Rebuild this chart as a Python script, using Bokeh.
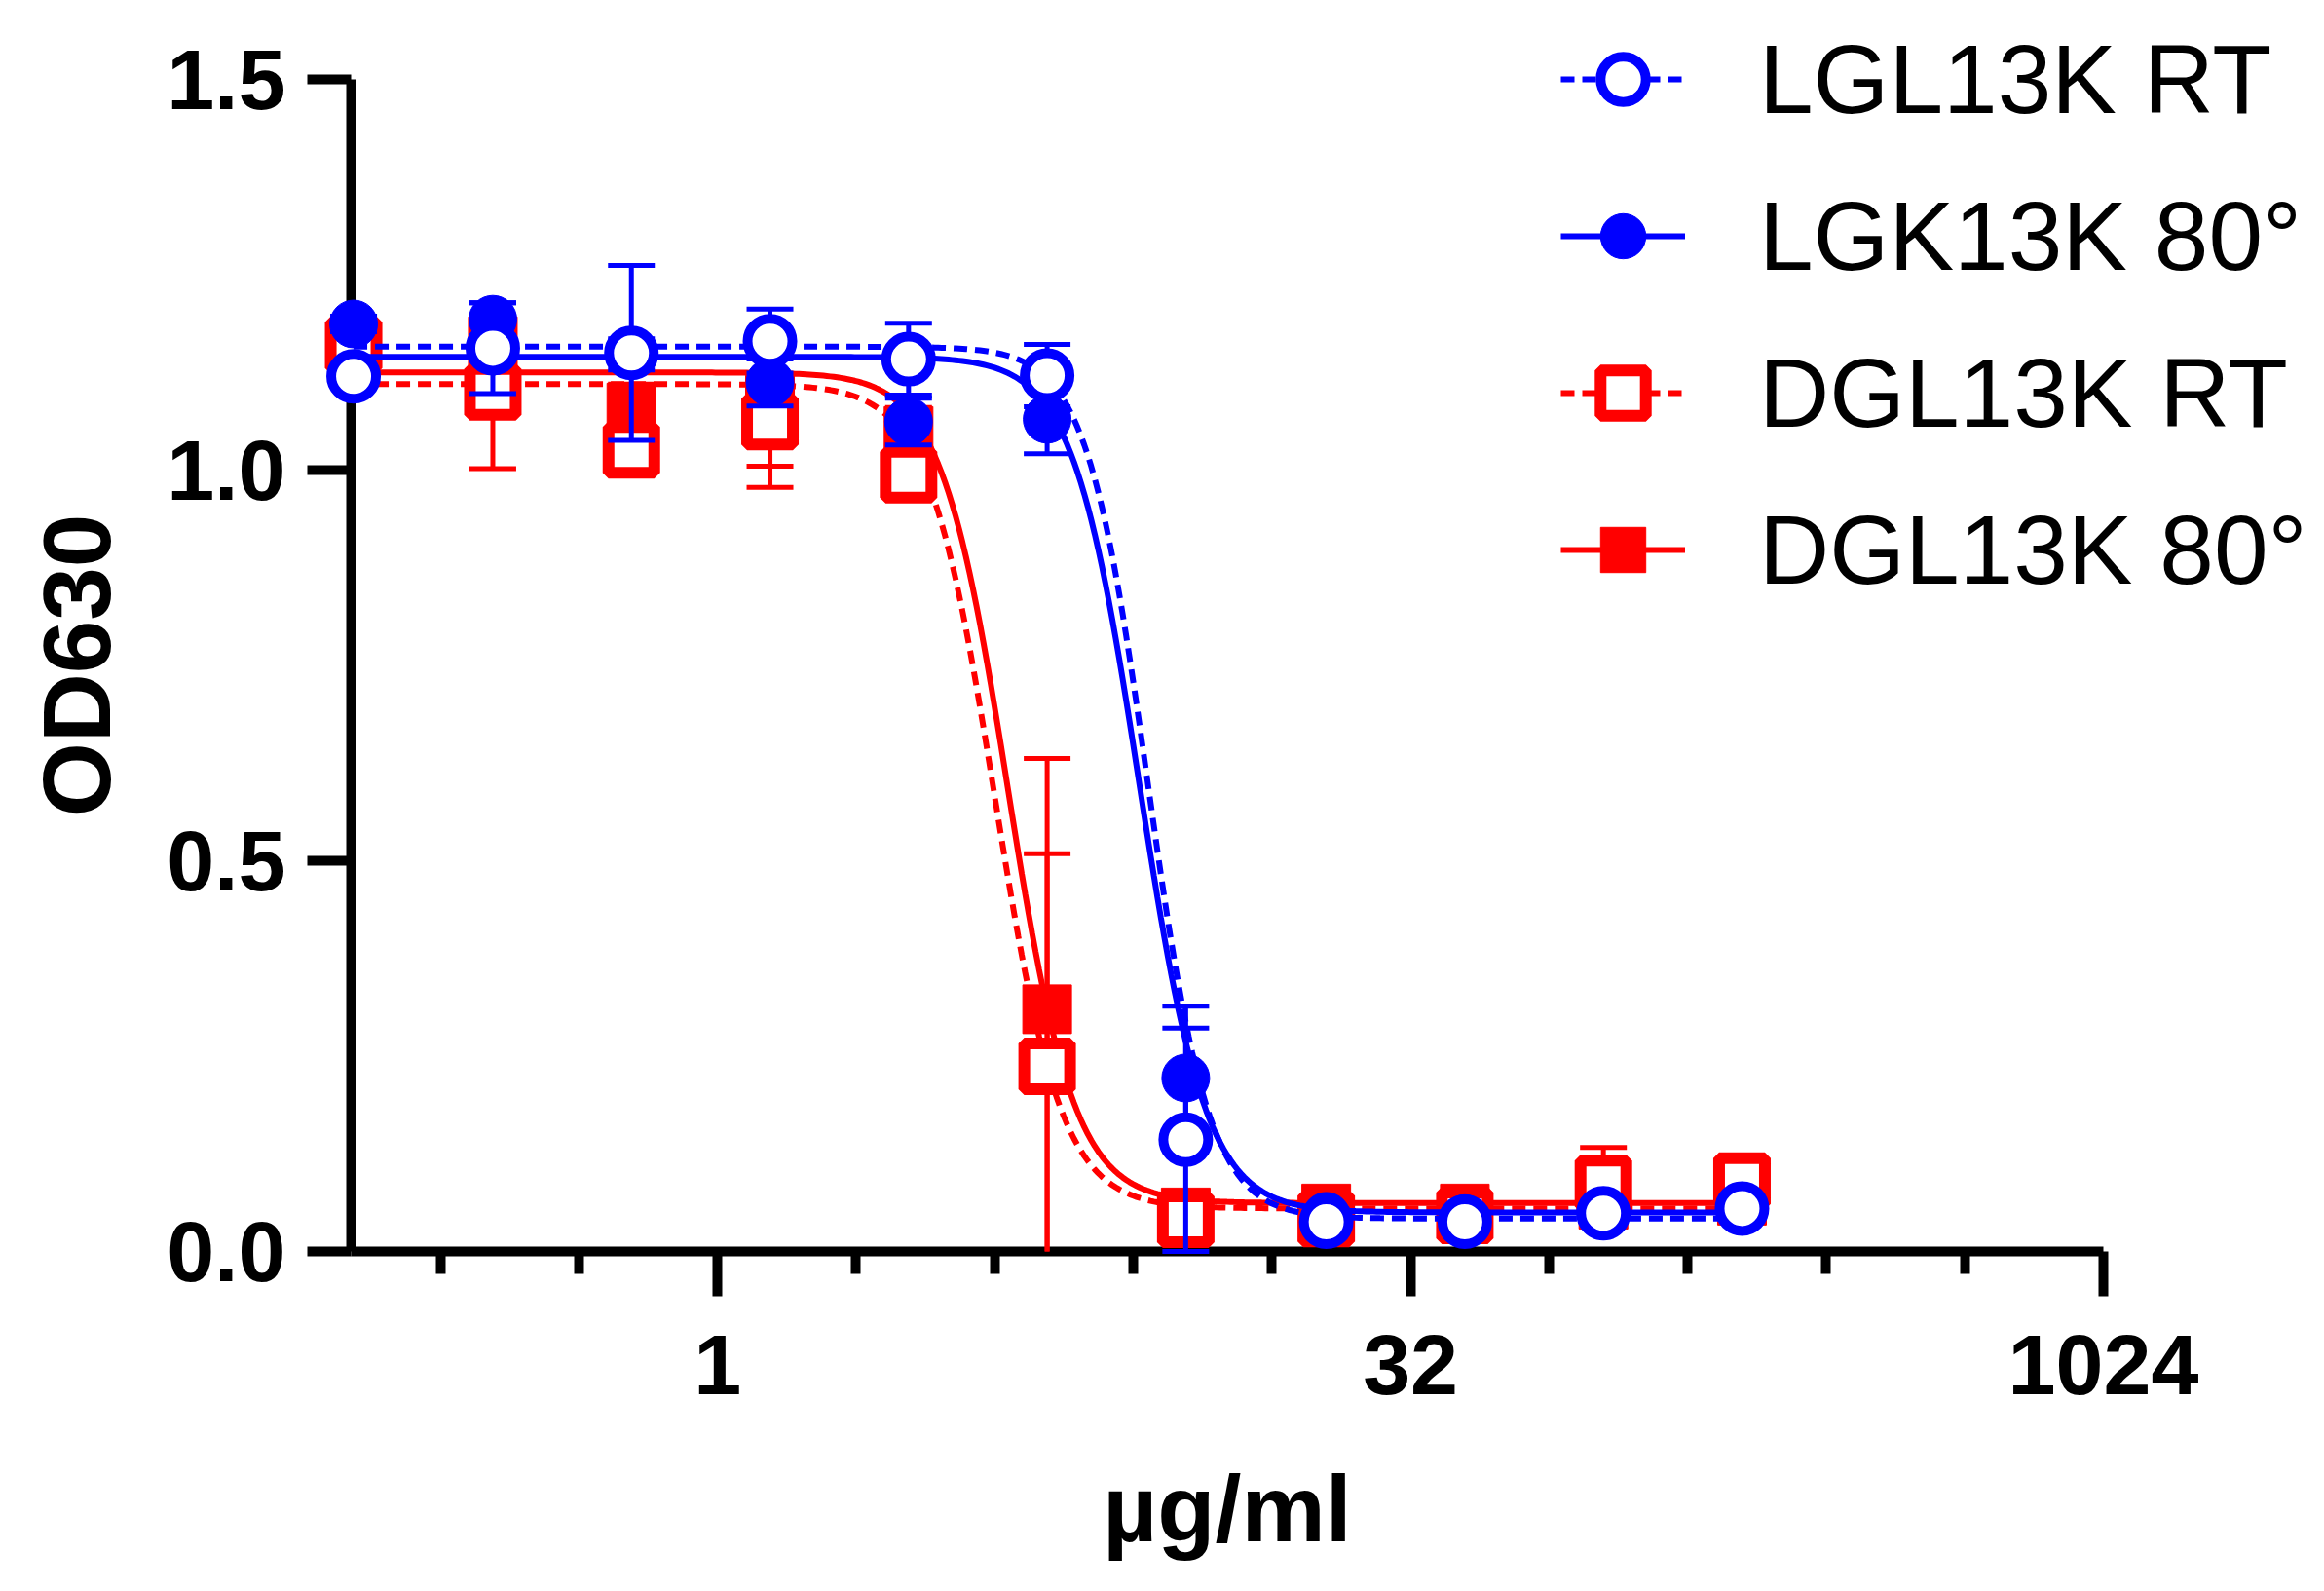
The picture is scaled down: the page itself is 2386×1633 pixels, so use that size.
import math
import numpy as np
from bokeh.plotting import figure
from bokeh.models import ColumnDataSource, FixedTicker, PrintfTickFormatter, Legend, LegendItem
from bokeh.core.properties import value
from bokeh.embed import file_html
from bokeh.resources import INLINE

# concentrations (ug/ml)
conc = [0.162, 0.325, 0.65, 1.3, 2.6, 5.2, 10.4, 21, 42, 84, 168]

# OD630 means and SDs
lgl_rt = [1.120, 1.156, 1.150, 1.165, 1.142, 1.121, 0.143, 0.038, 0.038, 0.049, 0.055]
lgl_rt_sd = [0.010, 0.058, 0.112, 0.041, 0.046, 0.040, 0.143, 0.005, 0.005, 0.005, 0.005]

lgk_80 = [1.187, 1.193, 1.148, 1.112, 1.062, 1.065, 0.222, 0.045, 0.042, 0.050, 0.056]
lgk_80_sd = [0.010, 0.021, 0.020, 0.030, 0.030, 0.044, 0.092, 0.005, 0.005, 0.005, 0.005]

dgl_rt = [1.160, 1.100, 1.026, 1.062, 0.994, 0.237, 0.041, 0.042, 0.046, 0.087, 0.090]
dgl_rt_sd = [0.010, 0.098, 0.030, 0.084, 0.030, 0.272, 0.020, 0.005, 0.005, 0.046, 0.010]

dgl_80 = [1.150, 1.165, 1.080, 1.090, 1.050, 0.310, 0.050, 0.055, 0.055, 0.060, 0.065]
dgl_80_sd = [0.010, 0.030, 0.030, 0.085, 0.030, 0.321, 0.010, 0.005, 0.005, 0.010, 0.010]

# fitted 4PL curves: top, bottom, EC50, hill slope
lgl_rt_fit = [1.158, 0.042, 8.6, 6.5]
lgk_80_fit = [1.145, 0.050, 8.25, 6.0]
dgl_rt_fit = [1.110, 0.055, 4.0, 6.0]
dgl_80_fit = [1.125, 0.062, 4.27, 6.0]

labels = ["LGL13K RT", "LGK13K 80°", "DGL13K RT", "DGL13K 80°"]
x_title = "µg/ml"
y_title = "OD630"

BLUE = "#0000ff"
RED = "#ff0000"
FONT = "Liberation Sans"

# axes span 0.16..1024 over 1799 px and 0..1.5 over 1203 px;
# the frame runs on to the right and top edges so the legend has room
X0, X1, Y1 = 0.16, 1024, 1.5
AX_W, AX_H = 1799, 1203
FRAME_W, FRAME_H = 2010, 1284
px_per_doubling = AX_W / math.log2(X1 / X0)
px_per_unit = AX_H / Y1
x_end = X1 * 2 ** ((FRAME_W - AX_W) / px_per_doubling)
y_end = Y1 * FRAME_H / AX_H

p = figure(frame_width=FRAME_W, frame_height=FRAME_H, x_axis_type="log",
           x_range=(X0, x_end), y_range=(0, y_end),
           output_backend="svg", toolbar_location=None,
           min_border_left=360, min_border_right=0,
           min_border_top=0, min_border_bottom=333)
p.grid.visible = False
p.outline_line_color = None
p.background_fill_color = "white"

xa = p.xaxis[0]
ya = p.yaxis[0]
xa.bounds = (X0, X1)
ya.bounds = (0, Y1)
xa.ticker = FixedTicker(ticks=[1, 32, 1024],
                        minor_ticks=[0.25, 0.5, 2, 4, 8, 16, 64, 128, 256, 512])
xa.formatter = PrintfTickFormatter(format="%d")
ya.ticker = FixedTicker(ticks=[0, 0.5, 1.0, 1.5])
ya.formatter = PrintfTickFormatter(format="%.1f")

for ax in (xa, ya):
    ax.axis_line_width = 10
    ax.axis_line_color = "black"
    ax.major_tick_line_width = 10
    ax.minor_tick_line_width = 10
    ax.major_tick_in = 0
    ax.minor_tick_in = 0
    ax.major_label_text_font = FONT
    ax.major_label_text_font_style = "bold"
    ax.major_label_text_font_size = "88px"
    ax.major_label_text_color = "black"

xa.major_tick_out = 46
xa.minor_tick_out = 23
xa.major_label_standoff = 39

ya.major_tick_out = 45
ya.minor_tick_out = 0
ya.major_label_standoff = 22

# axis titles, centred on the axis lines (the frame is wider than the axes)
p.text(x=[math.sqrt(X0 * X1)], y=[-264 / px_per_unit], text=[x_title],
       text_align="center", text_baseline="middle",
       text_font=value(FONT), text_font_style="bold", text_font_size="97px",
       text_color="black", level="overlay")
p.text(x=[X0 * 2 ** (-282 / px_per_doubling)], y=[Y1 / 2], text=[y_title], angle=math.pi / 2,
       text_align="center", text_baseline="middle",
       text_font=value(FONT), text_font_style="bold", text_font_size="98px",
       text_color="black", level="overlay")


def add_series(vals, sds, fit, color, dash, marker, size, fill, lw):
    top, bottom, ec50, hill = fit
    xs = np.geomspace(conc[0], conc[-1], 400)
    ys = bottom + (top - bottom) / (1 + (xs / ec50) ** hill)
    r_line = p.line(xs, ys, line_color=color, line_width=6, line_dash=dash, level="overlay")

    lo = [v - s for v, s in zip(vals, sds)]
    hi = [v + s for v, s in zip(vals, sds)]
    src = ColumnDataSource(data=dict(x=conc, y=vals, lo=[max(v, 0) for v in lo], hi=hi))
    p.segment(x0="x", y0="lo", x1="x", y1="hi", source=src,
              line_color=color, line_width=5, level="overlay")
    p.scatter(x="x", y="hi", source=src, marker="dash", size=48,
              line_color=color, line_width=5, level="overlay")
    keep = [i for i, v in enumerate(lo) if v >= -0.002]
    lo_src = ColumnDataSource(data=dict(x=[conc[i] for i in keep],
                                        y=[max(lo[i], 0) for i in keep]))
    p.scatter(x="x", y="y", source=lo_src, marker="dash", size=48,
              line_color=color, line_width=5, level="overlay")
    r_pts = p.scatter(x="x", y="y", source=src, marker=marker, size=size,
                      fill_color=fill, line_color=color, line_width=lw, level="overlay")
    return [r_line, r_pts]


# drawn back to front
r_dgl_80 = add_series(dgl_80, dgl_80_sd, dgl_80_fit, RED, "solid", "square", 50, RED, 1)
r_dgl_rt = add_series(dgl_rt, dgl_rt_sd, dgl_rt_fit, RED, "14 8", "square", 47, "white", 12)
r_lgk_80 = add_series(lgk_80, lgk_80_sd, lgk_80_fit, BLUE, "solid", "circle", 49, BLUE, 1)
r_lgl_rt = add_series(lgl_rt, lgl_rt_sd, lgl_rt_fit, BLUE, "14 8", "circle", 46, "white", 10)

items = [LegendItem(label=labels[0], renderers=r_lgl_rt),
         LegendItem(label=labels[1], renderers=r_lgk_80),
         LegendItem(label=labels[2], renderers=r_dgl_rt),
         LegendItem(label=labels[3], renderers=r_dgl_80)]

legend = Legend(items=items, location=(1242, 662), padding=0, margin=0, spacing=45,
                glyph_width=128, glyph_height=116, label_height=116, label_standoff=76,
                label_text_font=FONT, label_text_font_size="100px",
                label_text_color="black",
                border_line_color=None, background_fill_alpha=0)
p.add_layout(legend)

open("out.html", "w", encoding="utf-8").write(file_html(p, INLINE))
